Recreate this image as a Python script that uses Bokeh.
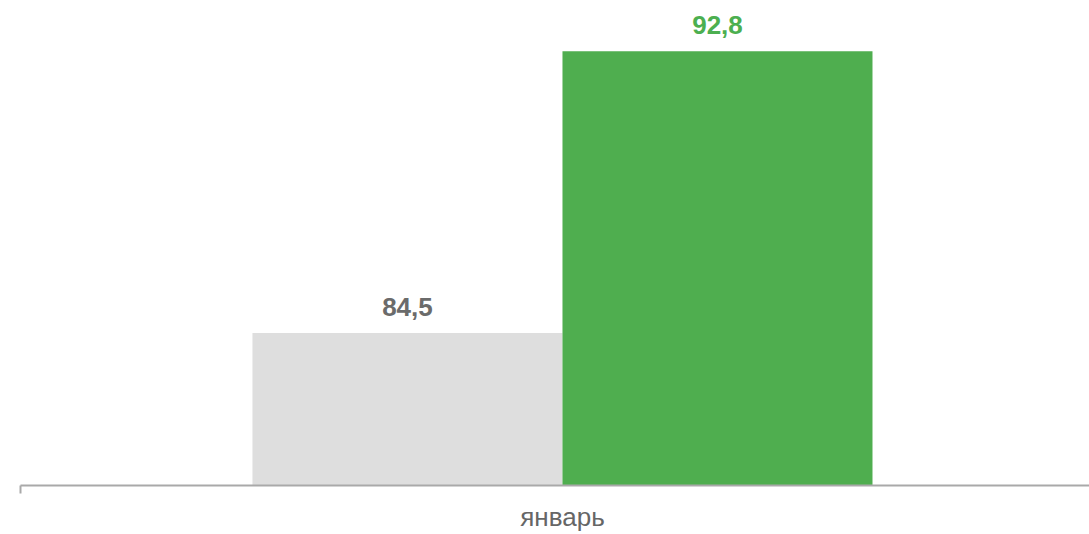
from bokeh.plotting import figure
from bokeh.models import ColumnDataSource, Range1d, FixedTicker, LabelSet
from bokeh.embed import file_html
from bokeh.resources import INLINE
from bokeh.core.properties import value

# ---- data ----
categories = ["январь"]
values_prev = [84.5]
values_curr = [92.8]
labels_prev = ["84,5"]
labels_curr = ["92,8"]

y_min = 80
y_max = 94.30

# ---- styling / layout ----
bar_w = 0.286          # bar width as a fraction of a category slot
view_frac = 0.9862     # visible part of the category slot
colors_bar = ["#dedede", "#4fae4f"]
colors_lbl = ["#6b6b6b", "#4caf50"]

cat_idx = list(range(len(categories)))
x_prev = [i - bar_w / 2 for i in cat_idx]
x_curr = [i + bar_w / 2 for i in cat_idx]

p = figure(width=1089, height=534, output_backend="svg", toolbar_location=None,
           x_range=Range1d(-0.5, -0.5 + view_frac), y_range=Range1d(y_min, y_max),
           y_axis_location=None, min_border_left=20, min_border_right=0,
           min_border_top=0, min_border_bottom=49)
p.outline_line_color = None
p.xgrid.visible = False
p.ygrid.visible = False
p.background_fill_color = "white"
p.border_fill_color = "white"

src_prev = ColumnDataSource(dict(x=x_prev, top=values_prev, text=labels_prev))
src_curr = ColumnDataSource(dict(x=x_curr, top=values_curr, text=labels_curr))

for src, cb, cl in [(src_prev, colors_bar[0], colors_lbl[0]), (src_curr, colors_bar[1], colors_lbl[1])]:
    p.vbar(x="x", top="top", bottom=y_min, width=bar_w, source=src,
           fill_color=cb, line_color=None)
    p.add_layout(LabelSet(x="x", y="top", text="text", source=src, y_offset=17,
                          text_align="center", text_baseline="alphabetic",
                          text_font=value("Liberation Sans"), text_font_style="bold",
                          text_font_size="26px", text_color=cl))

ax = p.xaxis[0]
ax.ticker = FixedTicker(ticks=cat_idx, minor_ticks=[i - 0.5 for i in cat_idx] + [cat_idx[-1] + 0.5])
ax.major_label_overrides = {i: c for i, c in zip(cat_idx, categories)}
ax.axis_line_color = "#a9a9a9"
ax.axis_line_width = 2
ax.major_tick_line_color = None
ax.major_tick_out = 0
ax.major_tick_in = 0
ax.minor_tick_line_color = "#a9a9a9"
ax.minor_tick_line_width = 2
ax.minor_tick_out = 8
ax.minor_tick_in = 0
ax.major_label_standoff = 8
ax.major_label_text_font = "Liberation Sans"
ax.major_label_text_font_size = "26px"
ax.major_label_text_color = "#666666"

open("out.html", "w").write(file_html(p, INLINE))
